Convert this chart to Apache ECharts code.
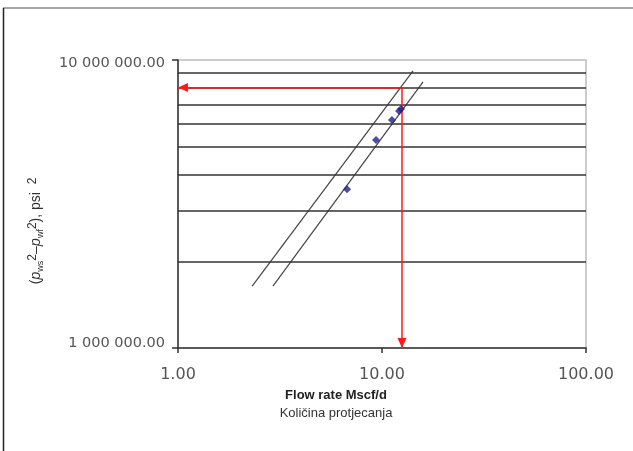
<!DOCTYPE html>
<html>
<head>
<meta charset="utf-8">
<script src="https://cdn.jsdelivr.net/npm/echarts@6/dist/echarts.min.js"></script>
<style>
html,body{margin:0;padding:0;background:#fff;}
#c{width:633px;height:451px;}
</style>
</head>
<body>
<div id="c"></div>
<script>
// ---- data ----
const flowRate = [6.74, 9.35, 11.19, 12.12, 12.39];          // Mscf/d
const pressureDiff = [3.56e6, 5.28e6, 6.19e6, 6.65e6, 6.76e6]; // psi^2
const upperLineX = [2.31, 14.19];
const upperLineY = [1.64e6, 9.16e6];
const lowerLineX = [2.92, 15.89];
const lowerLineY = [1.64e6, 8.39e6];
const readFlow = 12.53;
const readPressure = 8.03e6;
const gridValues = [2e6, 3e6, 4e6, 5e6, 6e6, 7e6, 8e6, 9e6];
const xRange = [1, 100];
const yRange = [1e6, 1e7];

function fmtSpaced(v) {
  const s = Number(v).toFixed(2);
  const parts = s.split('.');
  return parts[0].replace(/\B(?=(\d{3})+(?!\d))/g, ' ') + '.' + parts[1];
}

const chart = echarts.init(document.getElementById('c'), null, {renderer: 'canvas'});

const option = {
  animation: false,
  backgroundColor: '#fff',
  grid: {
    left: 178, top: 60, width: 408, height: 288,
    show: true, borderColor: '#bdbdbd', borderWidth: 1.5, backgroundColor: 'transparent'
  },
  graphic: [
    {type: 'line', shape: {x1: 3, y1: 8, x2: 633, y2: 8}, style: {stroke: '#8a8a8a', lineWidth: 1.5}},
    {type: 'line', shape: {x1: 3.5, y1: 8, x2: 3.5, y2: 451}, style: {stroke: '#222', lineWidth: 1.5}}
  ],
  xAxis: {
    type: 'log', logBase: 10, min: xRange[0], max: xRange[1],
    axisLine: {show: true, lineStyle: {color: '#333', width: 1.5}},
    axisTick: {show: true, inside: false, length: 5, lineStyle: {color: '#333', width: 1.5}},
    splitLine: {show: false},
    axisLabel: {
      margin: 19, fontFamily: 'DejaVu Sans', fontSize: 16, color: '#555',
      formatter: v => Number(v).toFixed(2)
    },
    name: '{b|Flow rate Mscf/d}\n{r|Količina protjecanja}',
    nameLocation: 'middle', nameGap: 38,
    nameTextStyle: {
      padding: [0, 92, 0, 0],
      rich: {
        b: {fontFamily: 'Liberation Sans', fontWeight: 'bold', fontSize: 13, color: '#222', lineHeight: 18, align: 'center'},
        r: {fontFamily: 'Liberation Sans', fontSize: 13, color: '#333', lineHeight: 18, align: 'center'}
      }
    }
  },
  yAxis: {
    type: 'log', logBase: 10, min: yRange[0], max: yRange[1],
    axisLine: {show: true, lineStyle: {color: '#333', width: 1.5}},
    axisTick: {show: true, inside: false, length: 6, lineStyle: {color: '#333', width: 1.5}},
    splitLine: {show: false},
    axisLabel: {
      margin: 13,
      formatter: v => (v < 2e6 ? '{lo|' : '{hi|') + fmtSpaced(v) + '}',
      rich: {
        lo: {fontFamily: 'DejaVu Sans', fontSize: 14.5, color: '#555', padding: [0, 0, 10, 0]},
        hi: {fontFamily: 'DejaVu Sans', fontSize: 14.5, color: '#555', padding: [7, 0, 0, 0]}
      }
    },
    name: '{t|(}{p|p}{s|ws}{m|2}{t|–}{p|p}{s|wf}{m|2}{t|), psi  }{u|2}',
    nameLocation: 'middle', nameGap: 133, nameRotate: 90,
    nameTextStyle: {
      padding: [0, 54, 0, 0],
      rich: {
        t: {fontFamily: 'Liberation Sans', fontSize: 14, color: '#333', lineHeight: 18},
        p: {fontFamily: 'Liberation Sans', fontStyle: 'italic', fontSize: 14.5, color: '#333', lineHeight: 18},
        s: {fontFamily: 'Liberation Sans', fontSize: 9, color: '#333', verticalAlign: 'bottom', lineHeight: 12},
        m: {fontFamily: 'Liberation Sans', fontSize: 12, color: '#333', verticalAlign: 'top', lineHeight: 14},
        u: {fontFamily: 'Liberation Sans', fontSize: 12, color: '#333', verticalAlign: 'top', lineHeight: 14}
      }
    }
  },
  series: [
    {
      type: 'line', data: [], silent: true, z: 1,
      markLine: {
        silent: true, symbol: ['none', 'none'], animation: false,
        label: {show: false},
        lineStyle: {color: '#333', width: 1.6, type: 'solid'},
        data: gridValues.map(v => ({yAxis: v}))
      }
    },
    {
      type: 'line', data: upperLineX.map((x, i) => [x, upperLineY[i]]),
      showSymbol: false, lineStyle: {color: '#444', width: 1.2}, z: 3
    },
    {
      type: 'line', data: lowerLineX.map((x, i) => [x, lowerLineY[i]]),
      showSymbol: false, lineStyle: {color: '#444', width: 1.2}, z: 3
    },
    {
      type: 'scatter', data: flowRate.map((x, i) => [x, pressureDiff[i]]),
      symbol: 'diamond', symbolSize: 8, itemStyle: {color: '#1f1f8a'}, z: 5
    },
    {
      type: 'line', data: [], silent: true, z: 6,
      markLine: {
        silent: true, animation: false,
        symbol: ['none', 'triangle'], symbolSize: [9, 10],
        symbolOffset: [[0, 0], [0, 5]],
        label: {show: false},
        lineStyle: {color: '#ff1a1a', width: 1.5, type: 'solid'},
        data: [
          [{coord: [readFlow, readPressure]}, {coord: [xRange[0], readPressure]}],
          [{coord: [readFlow, readPressure]}, {coord: [readFlow, yRange[0]]}]
        ]
      }
    }
  ]
};
chart.setOption(option);
</script>
</body>
</html>
